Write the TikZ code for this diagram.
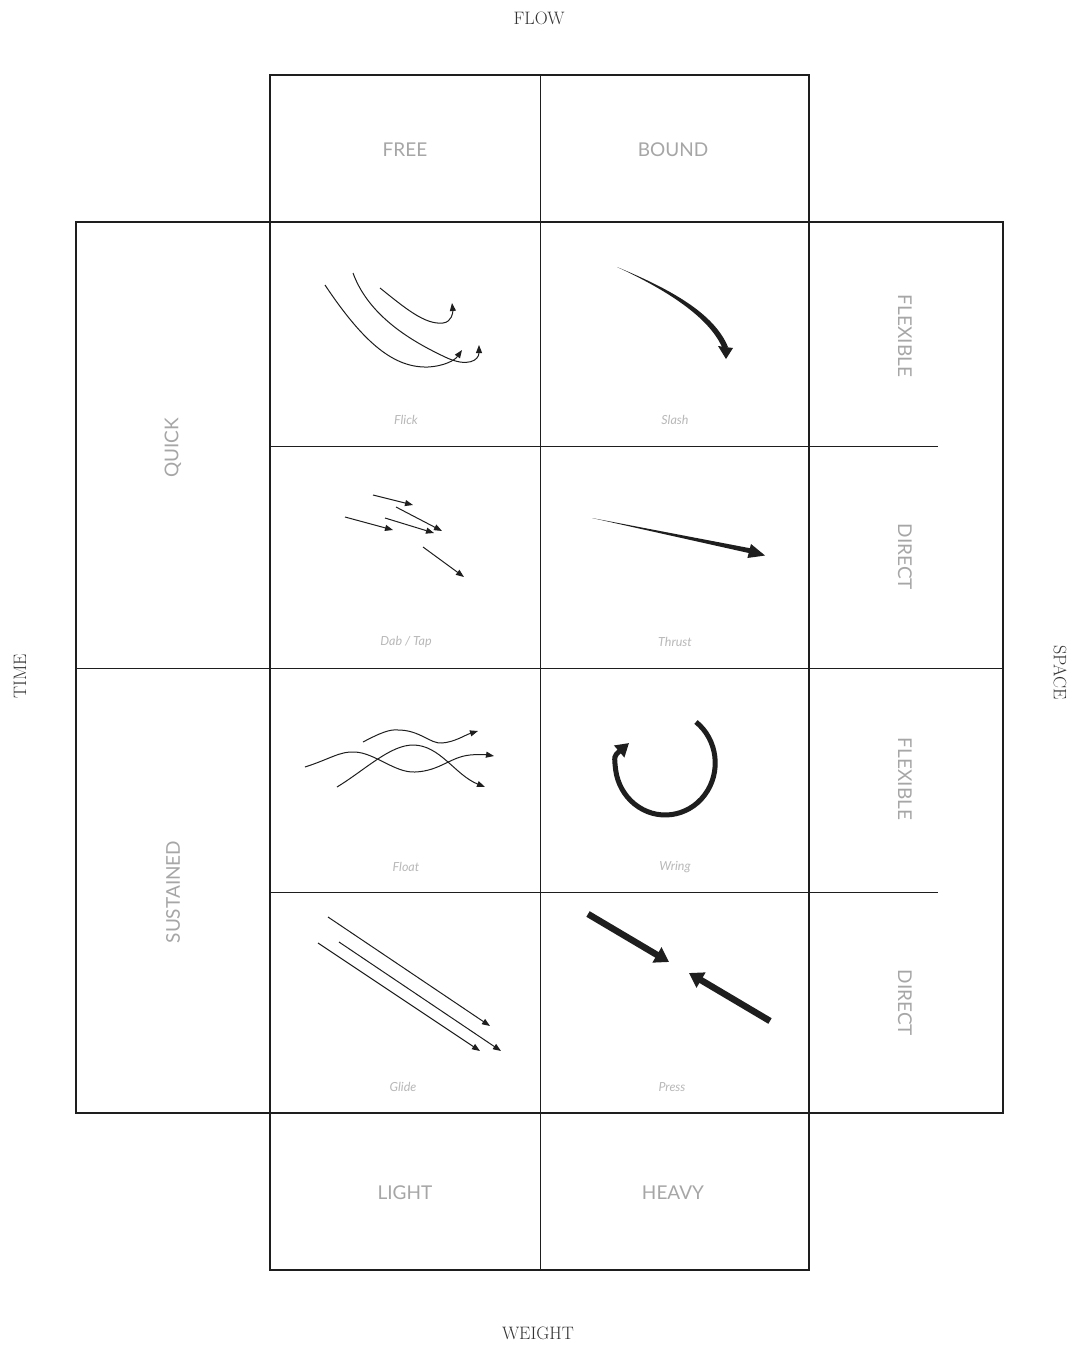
\documentclass[tikz,border=0pt]{standalone}
\usepackage{fontspec}
\newfontfamily\lbl{Lato}
\usetikzlibrary{arrows.meta}
\definecolor{ink}{HTML}{1E1E1E}
\definecolor{labgray}{HTML}{A6A6A6}
\definecolor{capgray}{HTML}{B8B8B8}
\definecolor{titgray}{HTML}{333333}
\tikzset{
  thickline/.style={draw=ink, line width=2.2pt},
  thinline/.style={draw=ink, line width=0.9pt},
  title/.style={text=titgray, font=\fontsize{18}{18}\selectfont, inner sep=0pt},
  axislabel/.style={text=labgray, font=\lbl\fontsize{19}{19}\selectfont, inner sep=0pt},
  caption/.style={text=capgray, font=\lbl\itshape\fontsize{12.5}{12.5}\selectfont, inner sep=0pt},
  fine/.style={draw=ink, line width=1pt, -{Triangle[length=8pt,width=6pt]}},
  heavyarrow/.style={draw=ink, line width=5pt, -{Triangle[length=13pt,width=15pt]}},
  pressarrow/.style={draw=ink, line width=6.5pt, -{Triangle[length=14pt,width=17pt]}},
}
\begin{document}
\begin{tikzpicture}[x=1pt,y=-1pt]
\useasboundingbox (0,0) rectangle (1076,1347);
\fill[white] (0,0) rectangle (1076,1347);

% ---- grid ----
\draw[thickline] (270,75) rectangle (809,222);
\draw[thickline] (76,222) rectangle (1003,1113);
\draw[thickline] (270,222) -- (270,1113);
\draw[thickline] (809,222) -- (809,1113);
\draw[thickline] (270,1113) rectangle (809,1270);
\draw[thinline] (540,75) -- (540,1270);
\draw[thinline] (76,668) -- (1003,668);
\draw[thinline] (270,446) -- (938,446);
\draw[thinline] (270,892) -- (938,892);

% ---- titles ----
\node[title] (flow) at (539,18) {FLOW};
\node[title] (weight) at (538,1333) {WEIGHT};
\node[title, rotate=90] (time) at (20,676) {TIME};
\node[title, rotate=-90] (space) at (1060,673) {SPACE};

% ---- axis labels ----
\node[axislabel] (free) at (405,150) {FREE};
\node[axislabel] (bound) at (673,150) {BOUND};
\node[axislabel] (light) at (405,1193) {LIGHT};
\node[axislabel] (heavy) at (673,1193) {HEAVY};
\node[axislabel, rotate=90] (quick) at (173,448) {QUICK};
\node[axislabel, rotate=90] (sustained) at (173,892) {SUSTAINED};
\node[axislabel, rotate=-90] (flex1) at (905,336) {FLEXIBLE};
\node[axislabel, rotate=-90] (direct1) at (905,557) {DIRECT};
\node[axislabel, rotate=-90] (flex2) at (905,779) {FLEXIBLE};
\node[axislabel, rotate=-90] (direct2) at (905,1003) {DIRECT};

% ---- captions ----
\node[caption] (flick) at (406,420) {Flick};
\node[caption] (slash) at (675,420) {Slash};
\node[caption] (dab) at (406,642) {Dab / Tap};
\node[caption] (thrust) at (675,642) {Thrust};
\node[caption] (float) at (406,867) {Float};
\node[caption] (wring) at (675,867) {Wring};
\node[caption] (glide) at (403,1087) {Glide};
\node[caption] (press) at (672,1087) {Press};

% ---- Flick ----
\draw[fine] (325,285) .. controls (365,345) and (395,368) .. (428,367) .. controls (445,366) and (455,360) .. (462,350);
\draw[fine] (353,273) .. controls (370,320) and (420,345) .. (445,357) .. controls (468,368) and (479,360) .. (479,345);
\draw[fine] (380,288) .. controls (405,308) and (425,325) .. (443,323) .. controls (452,322) and (453,312) .. (452,303);

% ---- Slash ----
\fill[ink] (617,267) .. controls (670,289) and (714,313) .. (728,347) -- (722,347) .. controls (709,318) and (669,291) .. (617,267) -- cycle;
\fill[ink] (718,346) -- (733,348) -- (726,359) -- cycle;

% ---- Dab / Tap ----
\draw[fine] (373,495) -- (413,505);
\draw[fine] (345,517) -- (393,530);
\draw[fine] (385,518) -- (434,533);
\draw[fine] (396,507) -- (442,531);
\draw[fine] (423,547) -- (464,577);

% ---- Thrust ----
\fill[ink] (592,518) -- (752,548.6) -- (750.5,553.4) -- cycle;
\fill[ink] (751,544) -- (747.4,558) -- (765,555.5) -- cycle;

% ---- Float ----
\draw[fine] (363,742) .. controls (380,733) and (390,729) .. (398,730) .. controls (420,730) and (430,744) .. (442,743) .. controls (455,742) and (465,735) .. (478,731);
\draw[fine] (305,767) .. controls (330,759) and (340,751) .. (355,752) .. controls (375,753) and (395,773) .. (415,772) .. controls (440,771) and (450,757) .. (470,755) .. controls (480,754) and (488,755) .. (494,756);
\draw[fine] (337,787) .. controls (365,770) and (390,745) .. (413,745) .. controls (440,745) and (455,775) .. (485,787);

% ---- Wring ----
\draw[heavyarrow] (696,722) arc[start angle=-52, end angle=172, x radius=50, y radius=52] .. controls (614,756) .. (629,743);

% ---- Glide ----
\draw[fine] (328,917) -- (490,1026);
\draw[fine] (339,942) -- (501,1051);
\draw[fine] (318,943) -- (480,1051);

% ---- Press ----
\draw[pressarrow] (588,914) -- (669,962);
\draw[pressarrow] (770,1021) -- (689,973);
\end{tikzpicture}
\end{document}
